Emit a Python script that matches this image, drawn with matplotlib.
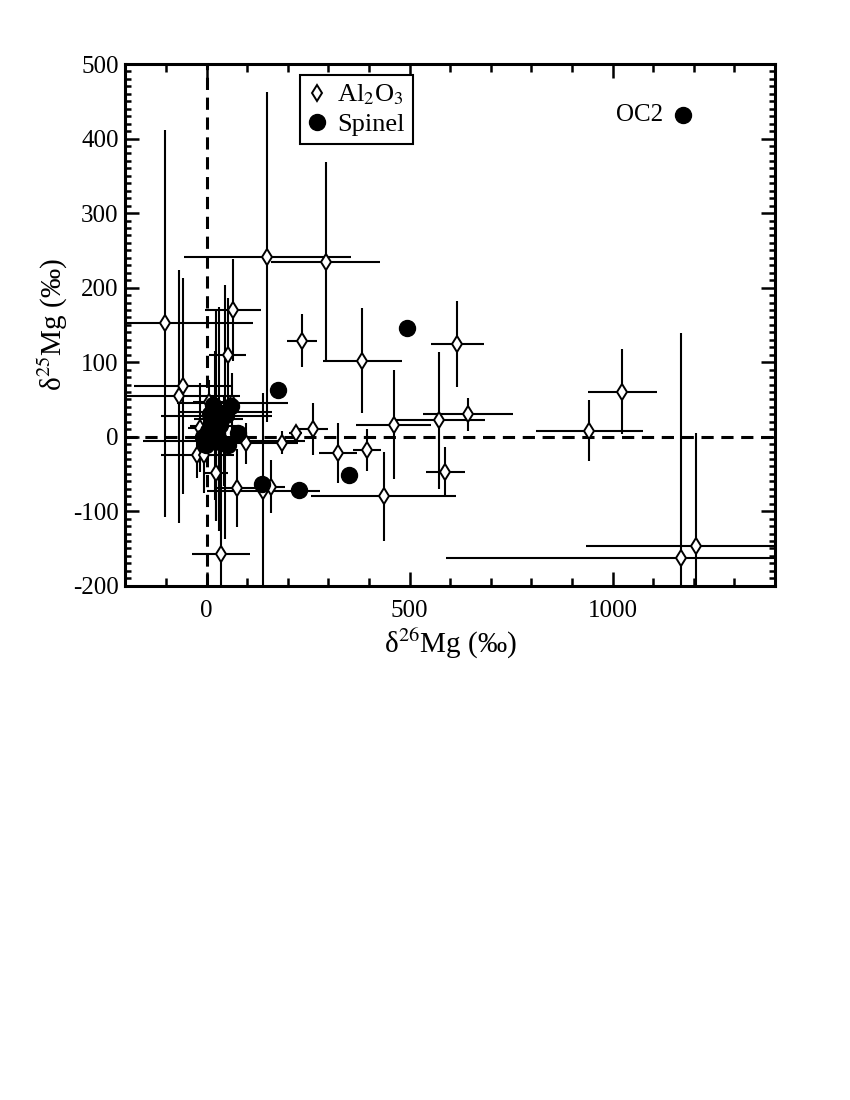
import numpy as np
import matplotlib
matplotlib.use("Agg")
import matplotlib.pyplot as plt
from matplotlib.lines import Line2D
from matplotlib.ticker import MultipleLocator

plt.rcParams['font.family'] = ['Liberation Serif', 'DejaVu Serif']
plt.rcParams['mathtext.fontset'] = 'stix'
plt.rcParams['axes.unicode_minus'] = False

# Al2O3 grains: d26Mg, error, d25Mg, error (permil)
al_x = [-103, -58, -67, 65, 149, 293, 235, 617, 383, 573, 644, 461, 262, 324, 395,
        436, 588, 1024, 942, 1168, 1206, 52, 98, 185, 219, -23, -6, -16, 22, 75,
        158, 140, 35, 6, 45, 24, 42, 63, 30, 20]
al_xerr = [217, 122, 150, 70, 206, 134, 37, 65, 97, 113, 110, 92, 36, 47, 34,
           178, 48, 85, 132, 578, 272, 45, 47, 39, 15, 90, 20, 30, 30, 57,
           36, 140, 72, 40, 116, 136, 200, 137, 60, 60]
al_y = [152, 68, 54, 170, 241, 235, 129, 124, 102, 22, 30, 16, 10, -22, -18,
        -80, -47, 60, 8, -163, -147, 109, -9, -8, 5, -25, -25, 12, -49, -69,
        -67, -73, -157, 46, 33, 28, -6, 45, 24, 15]
al_yerr = [260, 145, 170, 68, 221, 133, 36, 58, 70, 92, 22, 73, 35, 40, 28,
           60, 33, 57, 41, 302, 152, 77, 27, 15, 10, 30, 50, 60, 64, 52,
           36, 132, 200, 30, 170, 140, 60, 40, 150, 100]

# Spinel grains
sp_x = [1174, 493, 176, 60, 78, 137, 227, 350,
        15, 28, 13, 33, 3, 18, -2, 38, 52, 48, -9, 25, 8]
sp_y = [432, 146, 63, 41, 5, -64, -72, -51,
        43, 33, 23, 16, 7, -4, -11, -8, -11, 29, -1, 5, 30]

fig = plt.figure(figsize=(8.5, 11), dpi=100)
ax = fig.add_axes([0.1476, 0.4675, 0.7642, 0.4743])

ax.errorbar(al_x, al_y, xerr=al_xerr, yerr=al_yerr, fmt='none',
            ecolor='black', elinewidth=1.5, capsize=0, zorder=2)
ax.axhline(0, color='black', lw=2.2, dashes=(4, 2.5), zorder=1)
ax.axvline(0, color='black', lw=2.2, dashes=(4, 2.5), zorder=1)
ax.plot(al_x, al_y, 'd', ms=8, mfc='white', mec='black', mew=1.4,
        ls='none', zorder=3)
ax.plot(sp_x, sp_y, 'o', ms=11.5, color='black', ls='none', zorder=4)

ax.text(1125, 432, 'OC2', ha='right', va='center', fontsize=18)

ax.set_xlim(-200, 1400)
ax.set_ylim(-200, 500)
ax.xaxis.set_major_locator(MultipleLocator(500))
ax.xaxis.set_minor_locator(MultipleLocator(100))
ax.yaxis.set_major_locator(MultipleLocator(100))
ax.yaxis.set_minor_locator(MultipleLocator(10))
ax.tick_params(which='both', direction='in', top=True, right=True,
               labelsize=18, width=1.8)
ax.tick_params(axis='x', which='major', length=10, pad=10)
ax.tick_params(axis='x', which='minor', length=6)
ax.tick_params(axis='y', which='major', length=10, pad=5)
ax.tick_params(axis='y', which='minor', length=4.5)
for sp in ax.spines.values():
    sp.set_linewidth(2.2)

ax.set_xlabel(r'δ$^{26}$Mg (‰)', fontsize=21, labelpad=4)
ax.set_ylabel(r'δ$^{25}$Mg (‰)', fontsize=21, labelpad=2)

handles = [
    Line2D([], [], marker='d', ms=8, mfc='white', mec='black', mew=1.4, ls='none'),
    Line2D([], [], marker='o', ms=11.5, color='black', ls='none'),
]
leg = ax.legend(handles, [r'Al$_2$O$_3$', 'Spinel'], loc='upper left',
                bbox_to_anchor=(0.269, 0.979), borderaxespad=0, fontsize=19,
                handlelength=0.7, handletextpad=0.4, borderpad=0.3,
                labelspacing=0.2, fancybox=False, framealpha=1,
                edgecolor='black')
leg.get_frame().set_linewidth(1.5)

fig.savefig('out.png', dpi=100)
